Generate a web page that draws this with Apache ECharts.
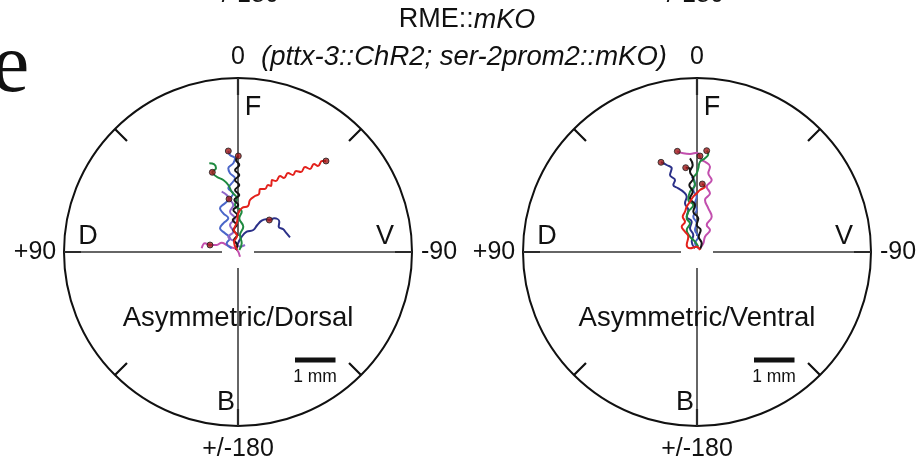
<!DOCTYPE html>
<html><head><meta charset="utf-8">
<script src="https://cdn.jsdelivr.net/npm/echarts@6/dist/echarts.min.js"></script>
<style>html,body{margin:0;padding:0;background:#fff}#c{width:919px;height:461px}</style>
</head><body><div id="c"></div>
<script>
// ---------- DATA (units: 37.5 units = 1 mm, origin = start point, y = forward) ----------
const panelTitles = ['Asymmetric/Dorsal', 'Asymmetric/Ventral'];
const angleLabelText = ['0', '+90', '+/-180', '-90'];
const dirLabels = ['F', 'D', 'V', 'B'];
const scaleBarLength = 37.5; // 1 mm
const scaleBarText = '1 mm';

// Dorsal panel tracks
const dRed = [[-1,2],[-4,10],[-1,16],[-4,22],[-1,30],[0,38],[4,44],[10,46],[12,52],[17,56],[21,58],[22,63],[27,63],[30,67],[33,66],[34,72],[38,71],[42,76],[46,74],[50,79],[55,77],[58,81],[63,80],[67,85],[72,83],[76,88],[80,86],[84,91],[88,91]];
const dBlack = [[-2,2],[-0.7,7],[-4,12],[-0.7,17],[-4.7,22],[-1.3,27],[-5.3,32],[-0.7,37],[-4.7,42],[0.3,47],[-3.7,52],[1.3,57],[-3,62],[1.3,67],[-3,72],[1.3,77],[-3,82],[1.3,87],[-2,92],[0.3,96]];
const dBlue = [[-6.3,3.7],[-11.3,8.7],[-8,13.7],[-13,18.7],[-18,23.7],[-14.7,28.7],[-9.7,33.7],[-14.7,38.7],[-18,43.7],[-13,48.7],[-8,53.7],[-4.7,58.7],[-9.7,63.7],[-6.3,68.7],[-3,73.7],[-8,78.7],[-9.7,83.7],[-4.7,88.7],[-3,93.7],[-8,97],[-9.7,101]];
const dGreen = [[1.3,2],[3.7,8.7],[2,17],[5.3,25.3],[1.3,33.7],[3.7,40.3],[-3,47],[-1.3,53.7],[-6.3,60.3],[-9.7,67],[-14.7,72],[-21.3,75.3],[-25.7,79.7],[-22,83.7],[-23.7,87.7],[-28.7,88.7]];
const dPurple = [[7,7],[2,5.3],[-3,10.3],[-9.7,15.3],[-4.7,20.3],[-8,27],[-3,33.7],[-8,40.3],[-4.7,47],[-9,53],[-11.3,57],[-16.3,60.3]];
const dNavy = [[-0.7,7],[3.7,15.3],[8.7,20.3],[15.3,22],[19.3,27],[23.7,31.3],[28,32.7],[31.3,32],[36.3,33.7],[41.3,30.3],[40.7,25.3],[45.3,22.7],[48,19.3],[52,14.7]];
const dMagenta = [[2,-4.7],[-1.3,2.7],[-6.3,4.7],[-11.3,7],[-16.3,9.3],[-21.3,7],[-28,7],[-33,8.7],[-36.3,3.7]];
const dorsalDots = [[-9.7,101],[0.3,96],[-25.7,79.7],[-9,53],[31.3,32],[88,91],[-28,7]];

// Ventral panel tracks
const vNavy = [[-2,3.7],[-5.3,10.3],[-3.7,17],[-7,23.7],[-5.3,30.3],[-10.3,35.3],[-8.7,42],[-12,48.7],[-10.3,55.3],[-13.7,60.3],[-18.7,63.7],[-23.7,67],[-22,72],[-27,77],[-25.3,83.7],[-30.3,87],[-36,89.7]];
const vMagenta = [[3,3.7],[6.3,8.7],[8,15.3],[13,22],[9.7,27],[14.7,35.3],[11.3,43.7],[8,52],[13,58.7],[9.7,65.3],[14.7,72],[11.3,78.7],[13,85.3],[8,90.3],[4.7,92],[-0.3,99.3],[-7,98],[-13.7,98.7],[-19.7,100.7]];
const vBlack = [[3,2.7],[4.7,8.7],[1.7,15.3],[3.7,22],[-0.3,27],[1.3,33.7],[-3.7,40.3],[-2,47],[-7,53.7],[-4.3,60.3],[-7.7,67],[-3.7,73.7],[-7,80.3],[-4.3,87],[-7,93.7]];
const vBlack2 = [[-7,80.3],[-7,83.7],[-11.3,84.3]];
const vGreen = [[1.3,5.3],[-2,10.3],[-7,15.3],[-10.3,22],[-7,28.7],[-10.3,33.7],[-8.7,40.3],[-3.7,47],[-8.7,52],[-7,60.3],[-2,67],[-3.7,73.7],[-0.3,78.7],[1.3,83.7],[3,90.3],[8,93.7],[11.3,98],[9.7,101.3]];
const vRed = [[3,2],[-0.3,5.3],[-7,3.7],[-10.3,7],[-8.7,15.3],[-12,20.3],[-15.3,25.3],[-12,30.3],[-14.3,35.3],[-12,40.3],[-10.3,45.3],[-7,50.3],[-3.7,55.3],[-0.3,58.7],[3,62],[8,65.3],[5.3,68]];
const vBlue = [[1.3,3.7],[-2,8.7],[1.3,15.3],[-2,22],[-0.3,28.7],[-3.7,35.3],[-0.3,42],[-2,48.7],[-0.3,55.3],[-3.7,62],[-2,68.7],[-5.3,75.3]];
const ventralDots = [[-36,89.7],[-19.7,100.7],[-11.3,84.3],[3,96],[9.7,101.3],[5.3,68]];

// ---------- STYLE / LAYOUT ----------
const COL = {red:'#e3211c', black:'#151515', green:'#1f8a40', blue:'#4b67c9', navy:'#2b3088', magenta:'#c24fae', purple:'#8e67c9'};
const dorsalTracks = [[dNavy,COL.navy],[dMagenta,COL.magenta],[dBlue,COL.blue],[dPurple,COL.purple],[dGreen,COL.green],[dBlack,COL.black],[dRed,COL.red]];
const ventralTracks = [[vNavy,COL.navy],[vMagenta,COL.magenta],[vBlue,COL.blue],[vGreen,COL.green],[vBlack,COL.black],[vBlack2,COL.black],[vRed,COL.red]];
const R = 174;            // circle radius in data units (= px)
const centers = [[238,252],[697,252]];
const gap = 16;
const FONT = 'Liberation Sans';
const TXT = '#111';

const chart = echarts.init(document.getElementById('c'), null, {renderer:'canvas'});

const polar = centers.map(c => ({center:c, radius:R}));
const angleAxis = centers.map((c,i) => ({
  polarIndex:i, type:'value', min:0, max:360, interval:45, startAngle:90, clockwise:false,
  axisLine:{show:true, lineStyle:{color:'#111', width:2}},
  axisTick:{show:true, inside:true, length:17, lineStyle:{color:'#111', width:2.2}},
  axisLabel:{show:false}, splitLine:{show:false}
}));
const radiusAxis = centers.map((c,i) => ({polarIndex:i, type:'value', min:0, max:1, show:false}));
const grid = centers.map(c => ({left:c[0]-R, top:c[1]-R, width:2*R, height:2*R}));
const xAxis = centers.map((c,i) => ({gridIndex:i, type:'value', min:-R, max:R, show:false}));
const yAxis = centers.map((c,i) => ({gridIndex:i, type:'value', min:-R, max:R, show:false}));

const series = [];
centers.forEach((c,i) => {
  series.push({type:'line', coordinateSystem:'polar', polarIndex:i, data:[], silent:true});
  const segs = [[[-R,0],[-gap,0]], [[gap,0],[R,0]], [[0,R],[0,gap]], [[0,-gap],[0,-R]]];
  segs.forEach(s => series.push({type:'line', xAxisIndex:i, yAxisIndex:i, data:s, symbol:'none',
    lineStyle:{color:'#333', width:1.5}, silent:true, z:1}));
  const tr = i === 0 ? dorsalTracks : ventralTracks;
  tr.forEach(([pts,col]) => series.push({type:'line', xAxisIndex:i, yAxisIndex:i, data:pts, symbol:'none',
    smooth:0.45, lineStyle:{color:col, width:2}, silent:true, z:3}));
  series.push({type:'scatter', xAxisIndex:i, yAxisIndex:i, data: i===0?dorsalDots:ventralDots, symbolSize:6,
    itemStyle:{color:'#a01818', borderColor:'#222', borderWidth:1}, z:5, silent:true});
  series.push({type:'line', xAxisIndex:i, yAxisIndex:i, symbol:'none', silent:true, z:2,
    data:[[57,-108],[57+scaleBarLength+3,-108]], lineStyle:{color:'#111', width:5, cap:'butt'}});
});

chart.setOption({
  animation:false,
  polar, angleAxis, radiusAxis, grid, xAxis, yAxis, series
});

// Text labels placed through the grid's own coordinate conversion
const graphics = [
  {type:'text', x:467, y:20, style:{text:'{n|RME::}{i|mKO}', align:'center', verticalAlign:'middle',
    rich:{n:{fontSize:27, fontFamily:FONT, fill:TXT}, i:{fontSize:27, fontFamily:FONT, fontStyle:'italic', fill:TXT}}}},
  {type:'text', x:464, y:57, style:{text:'(pttx-3::ChR2; ser-2prom2::mKO)', align:'center', verticalAlign:'middle',
    fontSize:27.5, fontFamily:FONT, fontStyle:'italic', fill:TXT}},
  {type:'text', x:243, y:-5, style:{text:'+/-180', align:'center', verticalAlign:'middle', fontSize:25, fontFamily:FONT, fill:TXT}},
  {type:'text', x:688, y:-5, style:{text:'+/-180', align:'center', verticalAlign:'middle', fontSize:25, fontFamily:FONT, fill:TXT}},
  {type:'text', x:-8, y:69, style:{text:'e', align:'left', verticalAlign:'middle', fontSize:84, fontFamily:'Liberation Serif', fill:TXT}}
];
centers.forEach((c,i) => {
  const items = [
    [dirLabels[0],[15,144],27], [dirLabels[1],[-150,15],27], [dirLabels[2],[147,15],27], [dirLabels[3],[-12,-151],27],
    [panelTitles[i],[0,-66],27.5], [scaleBarText,[77,-125],17.5],
    [angleLabelText[0],[0,195],25], [angleLabelText[1],[-203,0],25], [angleLabelText[3],[201,0],25], [angleLabelText[2],[0,-197],25]
  ];
  items.forEach(([t,pos,size]) => {
    const p = chart.convertToPixel({gridIndex:i}, pos);
    graphics.push({type:'text', x:p[0], y:p[1], silent:true, z:10,
      style:{text:t, align:'center', verticalAlign:'middle', fontSize:size, fontFamily:FONT, fill:TXT}});
  });
});
chart.setOption({graphic:graphics});
</script></body></html>
